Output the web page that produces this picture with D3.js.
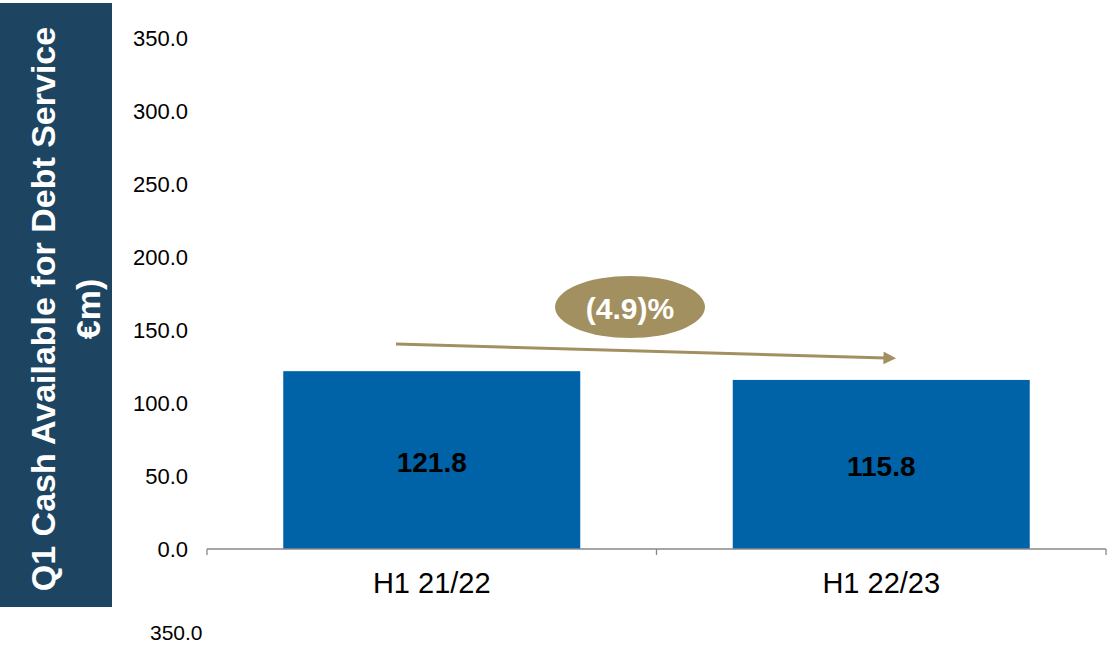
<!DOCTYPE html>
<html><head><meta charset="utf-8">
<script src="https://cdn.jsdelivr.net/npm/d3@7"></script>
<style>body{margin:0;background:#fff;font-family:"Liberation Sans",Arial,sans-serif}</style>
</head><body><svg id="c" width="1113" height="647"></svg>
<script>
const categories = ["H1 21/22", "H1 22/23"];
const values = [121.8, 115.8];
const valueLabels = ["121.8", "115.8"];
const yTicks = [0, 50, 100, 150, 200, 250, 300, 350];
const changeLabel = "(4.9)%";
const titleLines = ["Q1 Cash Available for Debt Service", "€m)"];
const strayLabel = "350.0";

const svg = d3.select("#c");
const font = "'Liberation Sans', Arial, sans-serif";

// left title panel
svg.append("rect").attr("x",0).attr("y",3).attr("width",112).attr("height",604).attr("fill","#1d4562");
const tg = svg.append("text").attr("transform","translate(56,309) rotate(-90)")
  .attr("text-anchor","middle").attr("fill","#fff").attr("font-family",font)
  .attr("font-weight","bold").attr("font-size",34);
titleLines.forEach((t,i)=>tg.append("tspan").attr("x",0).attr("y", i===0 ? -1 : 44).text(t));

const x = d3.scaleBand().domain(categories).range([207,1106]).paddingInner(0).paddingOuter(0);
const y = d3.scaleLinear().domain([0,350]).range([549,38]);
const barW = 297;

// y tick labels
svg.append("g").selectAll("text").data(yTicks).join("text")
  .attr("x",188).attr("y",d=>y(d)).attr("dy","0.35em").attr("text-anchor","end")
  .attr("font-family",font).attr("font-size",22).attr("fill","#000")
  .text(d=>d3.format(".1f")(d));

// bars
svg.append("g").selectAll("rect").data(values).join("rect")
  .attr("x",(d,i)=>x(categories[i])+(x.bandwidth()-barW)/2)
  .attr("y",d=>y(d)).attr("width",barW).attr("height",d=>y(0)-y(d))
  .attr("fill","#0063a8");

// value labels
svg.append("g").selectAll("text").data(values).join("text")
  .attr("x",(d,i)=>x(categories[i])+x.bandwidth()/2)
  .attr("y",d=>(y(d)+y(0))/2 + 2).attr("dy","0.35em").attr("text-anchor","middle")
  .attr("font-family",font).attr("font-weight","bold").attr("font-size",28).attr("fill","#000")
  .text((d,i)=>valueLabels[i]);

// x axis
const xa = svg.append("g").attr("transform","translate(0,549)");
xa.append("line").attr("x1",207).attr("x2",1106).attr("y1",0).attr("y2",0).attr("stroke","#888").attr("stroke-width",1.3);
const tickXs = [207, x(categories[1]), 1106];
xa.selectAll("line.t").data(tickXs).join("line").attr("class","t")
  .attr("x1",d=>d).attr("x2",d=>d).attr("y1",0).attr("y2",6).attr("stroke","#888").attr("stroke-width",1.3);
xa.selectAll("text").data(categories).join("text")
  .attr("x",d=>x(d)+x.bandwidth()/2).attr("y",34).attr("dy","0.35em")
  .attr("text-anchor","middle").attr("font-family",font).attr("font-size",29).attr("fill","#000")
  .text(d=>d);

// arrow
const gold = "#a39060";
svg.append("defs").append("marker").attr("id","ah").attr("viewBox","0 0 10 10")
  .attr("refX",2).attr("refY",5).attr("markerWidth",5).attr("markerHeight",4.2)
  .attr("orient","auto").attr("markerUnits","strokeWidth")
  .append("path").attr("d","M0,0L10,5L0,10Z").attr("fill",gold);
svg.append("line").attr("x1",396).attr("y1",344).attr("x2",886).attr("y2",358)
  .attr("stroke",gold).attr("stroke-width",3).attr("marker-end","url(#ah)");

// ellipse
svg.append("ellipse").attr("cx",630).attr("cy",307).attr("rx",75).attr("ry",31).attr("fill",gold);
svg.append("text").attr("x",630).attr("y",308).attr("dy","0.35em").attr("text-anchor","middle")
  .attr("font-family",font).attr("font-weight","bold").attr("font-size",30).attr("fill","#fff")
  .text(changeLabel);

// stray label
svg.append("text").attr("x",150).attr("y",633).attr("dy","0.35em")
  .attr("font-family",font).attr("font-size",21).attr("fill","#000").text(strayLabel);
</script></body></html>
